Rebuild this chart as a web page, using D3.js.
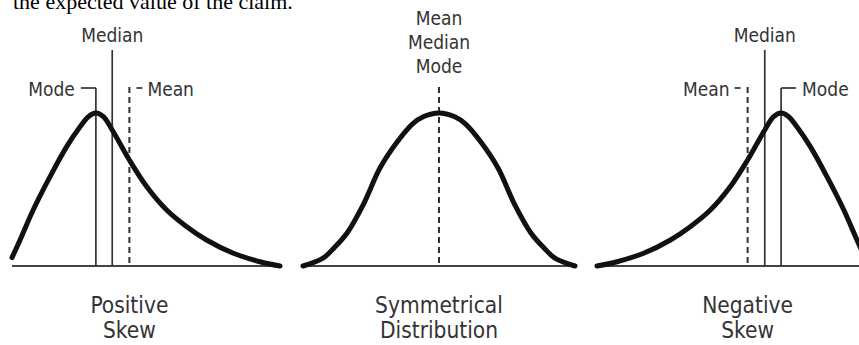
<!DOCTYPE html>
<html>
<head>
<meta charset="utf-8">
<script src="https://cdn.jsdelivr.net/npm/d3@7"></script>
<style>
  html, body { margin: 0; padding: 0; background: #fff; }
  svg { display: block; }
  .lbl { font-family: "DejaVu Sans Condensed", "DejaVu Sans", sans-serif; font-stretch: condensed; fill: #333; }
</style>
</head>
<body>
<svg id="chart"></svg>
<script>
// caption line cut off at the top of the picture
const captionText = "the expected value of the claim.";

// curves: position along panel (0-100) and relative height (0-1)
const positiveX = [0, 3.0, 7.9, 14.2, 20.4, 25.4, 28.5, 31.3, 34.1, 37.4, 43.8, 50.3, 57.7, 65.2, 72.6, 82.6, 92.5, 100];
const positiveY = [0.055, 0.17, 0.366, 0.584, 0.78, 0.91, 0.976, 1, 0.976, 0.889, 0.693, 0.518, 0.366, 0.257, 0.17, 0.083, 0.028, 0];

const symmetricX = [0, 7.4, 11.4, 16.2, 22.4, 28.3, 34.6, 40.4, 44.2, 50, 55.8, 59.6, 65.4, 71.7, 77.6, 83.8, 88.6, 92.6, 100];
const symmetricY = [0, 0.052, 0.118, 0.216, 0.41, 0.64, 0.81, 0.93, 0.975, 1, 0.975, 0.93, 0.81, 0.64, 0.41, 0.216, 0.118, 0.052, 0];

const negativeX = [0, 7.5, 17.4, 27.4, 34.8, 42.3, 49.7, 56.2, 62.6, 65.9, 68.7, 71.5, 74.6, 79.6, 85.8, 92.1, 97.0, 100];
const negativeY = [0, 0.028, 0.083, 0.17, 0.257, 0.366, 0.518, 0.693, 0.889, 0.976, 1, 0.976, 0.91, 0.78, 0.584, 0.366, 0.17, 0.055];

// mode, median, mean
const statNames = ["Mode", "Median", "Mean"];
const positiveStats = [31.3, 37.4, 43.8];
const symmetricStats = [50, 50, 50];
const negativeStats = [68.7, 62.6, 56.2];

const panelTitles = [["Positive", "Skew"], ["Symmetrical", "Distribution"], ["Negative", "Skew"]];

const width = 859;
const height = 345;
const baseY = 266;
const peakY = 113;

const svg = d3.select("#chart").attr("width", width).attr("height", height);

const yScale = d3.scaleLinear().domain([0, 1]).range([baseY, peakY]);

const panels = [
  { range: [12, 280], xs: positiveX, ys: positiveY, stats: positiveStats, title: panelTitles[0], kind: "skew", side: -1 },
  { range: [303, 575], xs: symmetricX, ys: symmetricY, stats: symmetricStats, title: panelTitles[1], kind: "sym" },
  { range: [597, 865], xs: negativeX, ys: negativeY, stats: negativeStats, title: panelTitles[2], kind: "skew", side: 1 },
];

svg.append("text")
  .attr("x", 13)
  .attr("y", 9)
  .attr("font-family", "Liberation Serif, Times New Roman, serif")
  .attr("font-size", 22)
  .attr("fill", "#000")
  .text(captionText);

panels.forEach((p) => drawPanel(p));

function drawPanel(p) {
  const x = d3.scaleLinear().domain([0, 100]).range(p.range);
  const g = svg.append("g");
  const [mode, median, mean] = p.stats;

  // axis line
  g.append("line")
    .attr("x1", x(0)).attr("x2", x(100))
    .attr("y1", baseY).attr("y2", baseY)
    .attr("stroke", "#444").attr("stroke-width", 2);

  if (p.kind === "skew") {
    // mode and median solid, mean dashed
    g.append("line")
      .attr("x1", x(mode)).attr("x2", x(mode))
      .attr("y1", 88).attr("y2", baseY)
      .attr("stroke", "#333").attr("stroke-width", 1.7);
    g.append("line")
      .attr("x1", x(median)).attr("x2", x(median))
      .attr("y1", 50).attr("y2", baseY)
      .attr("stroke", "#333").attr("stroke-width", 1.7);
    g.append("line")
      .attr("x1", x(mean)).attr("x2", x(mean))
      .attr("y1", 87).attr("y2", baseY)
      .attr("stroke", "#333").attr("stroke-width", 2)
      .attr("stroke-dasharray", "6,4");

    const s = p.side;
    // mode bracket + label
    g.append("line")
      .attr("x1", x(mode)).attr("x2", x(mode) + s * 15)
      .attr("y1", 88).attr("y2", 88)
      .attr("stroke", "#333").attr("stroke-width", 1.7);
    g.append("text").attr("class", "lbl")
      .attr("x", x(mode) + s * 21).attr("y", 96)
      .attr("text-anchor", s < 0 ? "end" : "start")
      .attr("font-size", 19)
      .text(statNames[0]);

    // median label
    g.append("text").attr("class", "lbl")
      .attr("x", x(median)).attr("y", 42)
      .attr("text-anchor", "middle")
      .attr("font-size", 19)
      .text(statNames[1]);

    // mean tick + label, on the other side
    g.append("line")
      .attr("x1", x(mean) - s * 7).attr("x2", x(mean) - s * 13)
      .attr("y1", 88).attr("y2", 88)
      .attr("stroke", "#333").attr("stroke-width", 1.7);
    g.append("text").attr("class", "lbl")
      .attr("x", x(mean) - s * 18).attr("y", 96)
      .attr("text-anchor", s < 0 ? "start" : "end")
      .attr("font-size", 19)
      .text(statNames[2]);
  } else {
    g.append("line")
      .attr("x1", x(mean)).attr("x2", x(mean))
      .attr("y1", 87).attr("y2", baseY)
      .attr("stroke", "#333").attr("stroke-width", 2)
      .attr("stroke-dasharray", "6,4");

    g.selectAll("text.stack")
      .data([statNames[2], statNames[1], statNames[0]])
      .join("text")
      .attr("class", "lbl stack")
      .attr("x", x(mean))
      .attr("y", (d, i) => 25 + i * 24)
      .attr("text-anchor", "middle")
      .attr("font-size", 19)
      .text((d) => d);
  }

  // the curve
  const pts = p.xs.map((v, i) => [v, p.ys[i]]);
  const line = d3.line()
    .x((d) => x(d[0]))
    .y((d) => yScale(d[1]))
    .curve(d3.curveCatmullRom.alpha(0.5));

  g.append("path")
    .attr("d", line(pts))
    .attr("fill", "none")
    .attr("stroke", "#111")
    .attr("stroke-width", 5)
    .attr("stroke-linecap", "round");

  // title under the axis, centred on the mean
  g.selectAll("text.title")
    .data(p.title)
    .join("text")
    .attr("class", "lbl title")
    .attr("x", x(mean))
    .attr("y", (d, i) => 313 + i * 25)
    .attr("text-anchor", "middle")
    .attr("font-size", 22.5)
    .text((d) => d);
}
</script>
</body>
</html>
